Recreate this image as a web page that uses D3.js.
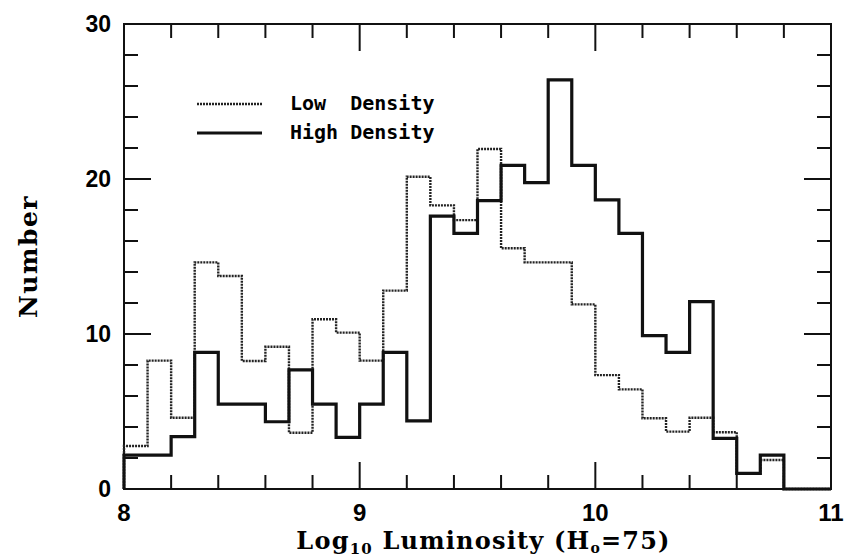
<!DOCTYPE html>
<html>
<head>
<meta charset="utf-8">
<script src="https://cdn.jsdelivr.net/npm/d3@7"></script>
<style>
  body { margin: 0; background: #fff; }
</style>
</head>
<body>
<div id="hist"></div>
<script>
// bins are 0.1 dex wide, starting at log L = 8.0
const binStart = 8.0,
  binWidth = 0.1;

// counts per bin
const lowDensity = [2.77, 8.28, 4.6, 14.62, 13.74, 8.26, 9.18, 3.63, 10.95, 10.09,
  8.28, 12.8, 20.15, 18.3, 17.35, 21.94, 15.53, 14.62, 14.62, 11.91,
  7.35, 6.43, 4.56, 3.7, 4.6, 3.66, 1.01, 1.87];
const highDensity = [2.19, 2.19, 3.38, 8.82, 5.48, 5.48, 4.34, 7.68, 5.48, 3.33,
  5.48, 8.82, 4.4, 17.6, 16.49, 18.6, 20.88, 19.76, 26.39, 20.88,
  18.65, 16.49, 9.89, 8.82, 12.09, 3.27, 1.01, 2.19];

const xTickLabels = [8, 9, 10, 11];
const yTickLabels = [0, 10, 20, 30];
const legendLabels = ["Low  Density", "High Density"];

const margin = { top: 24, right: 15, bottom: 70, left: 124 },
  width = 846 - margin.left - margin.right,
  height = 559 - margin.top - margin.bottom;

const svg = d3.select("#hist")
  .append("svg")
  .attr("width", 846)
  .attr("height", 559)
  .append("g")
  .attr("transform", "translate(" + margin.left + "," + margin.top + ")");

const x = d3.scaleLinear().domain([8, 11]).range([0, width]);
const y = d3.scaleLinear().domain([0, 30]).range([height, 0]);

// ticks point inwards on all four sides, long ones at the labelled values
const xMinor = d3.range(8, 11.001, 0.2).map(v => +v.toFixed(1));
const yMinor = d3.range(0, 30.001, 2);
const isInt = v => Math.abs(v - Math.round(v)) < 1e-6;

const ticks = svg.append("g")
  .attr("stroke", "#111")
  .attr("stroke-width", 2);

xMinor.forEach(v => {
  const len = isInt(v) ? 27 : 14;
  ticks.append("line").attr("x1", x(v)).attr("x2", x(v)).attr("y1", height).attr("y2", height - len);
  ticks.append("line").attr("x1", x(v)).attr("x2", x(v)).attr("y1", 0).attr("y2", len);
});
yMinor.forEach(v => {
  const len = v % 10 === 0 ? 27 : 14;
  ticks.append("line").attr("x1", 0).attr("x2", len).attr("y1", y(v)).attr("y2", y(v));
  ticks.append("line").attr("x1", width).attr("x2", width - len).attr("y1", y(v)).attr("y2", y(v));
});

// frame
svg.append("rect")
  .attr("width", width)
  .attr("height", height)
  .attr("fill", "none")
  .attr("stroke", "#111")
  .attr("stroke-width", 2);

// tick labels
svg.selectAll(".xlab")
  .data(xTickLabels).enter()
  .append("text")
  .attr("x", d => x(d))
  .attr("y", height + 32)
  .attr("text-anchor", "middle")
  .style("font", "bold 24px 'Liberation Sans', sans-serif")
  .text(d => d);

svg.selectAll(".ylab")
  .data(yTickLabels).enter()
  .append("text")
  .attr("x", -13)
  .attr("y", d => y(d) + 8)
  .attr("text-anchor", "end")
  .style("font", "bold 23px 'Liberation Sans', sans-serif")
  .text(d => d);

// step outline of a histogram, dropping to zero after the last bin
function stepPath(counts) {
  const pts = [[binStart, 0]];
  counts.forEach((c, i) => pts.push([binStart + i * binWidth, c]));
  pts.push([binStart + counts.length * binWidth, 0]);
  pts.push([11, 0]);
  return d3.line()
    .x(d => x(d[0]))
    .y(d => y(d[1]))
    .curve(d3.curveStepAfter)(pts);
}

svg.append("path")
  .attr("d", stepPath(lowDensity))
  .attr("fill", "none")
  .attr("stroke", "#222")
  .attr("stroke-width", 2.4)
  .attr("stroke-dasharray", "2,1");

svg.append("path")
  .attr("d", stepPath(highDensity))
  .attr("fill", "none")
  .attr("stroke", "#111")
  .attr("stroke-width", 3.2);

// legend
const legend = svg.append("g").attr("transform", "translate(73,80)");
legendLabels.forEach((lab, i) => {
  const ly = i * 29;
  legend.append("line")
    .attr("x1", 0).attr("x2", 65)
    .attr("y1", ly).attr("y2", ly)
    .attr("stroke", i === 0 ? "#222" : "#111")
    .attr("stroke-width", i === 0 ? 2.4 : 3.2)
    .attr("stroke-dasharray", i === 0 ? "2,1" : null);
  legend.append("text")
    .attr("x", 93)
    .attr("y", ly + 6)
    .attr("xml:space", "preserve")
    .style("white-space", "pre")
    .style("font", "bold 20px 'DejaVu Sans Mono', monospace")
    .text(lab);
});

// axis titles
const xTitle = svg.append("text")
  .attr("x", width / 2 + 6)
  .attr("y", height + 60)
  .attr("text-anchor", "middle")
  .style("font", "bold 24px 'DejaVu Serif', serif")
  .style("letter-spacing", "1.2px");
xTitle.append("tspan").text("Log");
xTitle.append("tspan").attr("dy", 5).style("font-size", "15px").text("10");
xTitle.append("tspan").attr("dy", -5).text(" Luminosity  (H");
xTitle.append("tspan").attr("dy", 4).style("font-size", "14px").text("o");
xTitle.append("tspan").attr("dy", -4).text("=75)");

svg.append("text")
  .attr("transform", "translate(" + (-87) + "," + (height / 2) + ") rotate(-90)")
  .attr("text-anchor", "middle")
  .style("font", "bold 25px 'DejaVu Serif', serif")
  .style("letter-spacing", "1.5px")
  .text("Number");
</script>
</body>
</html>
